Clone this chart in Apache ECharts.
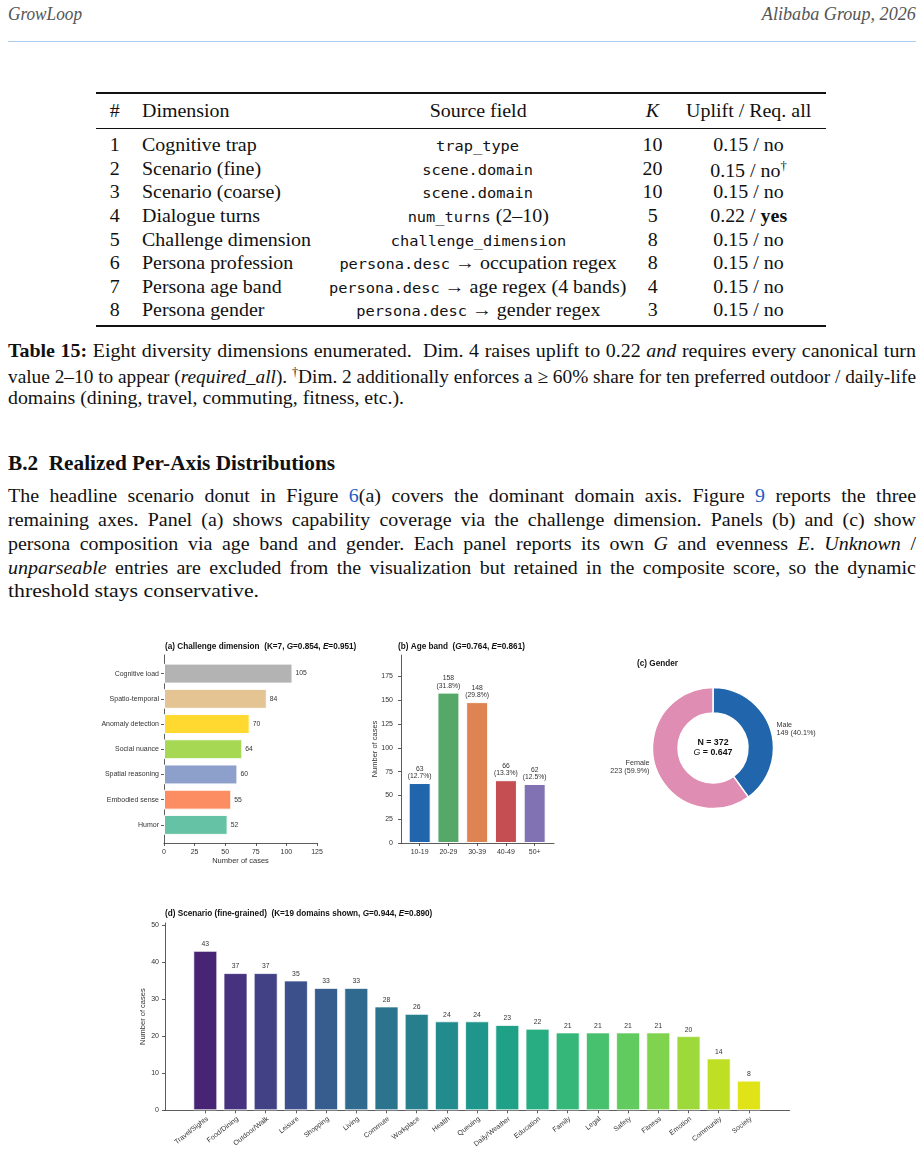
<!DOCTYPE html>
<html><head><meta charset="utf-8">
<script src="https://cdn.jsdelivr.net/npm/echarts@6/dist/echarts.min.js"></script>
<style>
html,body{margin:0;padding:0;background:#fff;}
body{width:924px;height:1149px;position:relative;overflow:hidden;font-family:"Liberation Serif","Times New Roman",serif;color:#111;}
.t{position:absolute;white-space:nowrap;font-size:19px;line-height:22px;}
.m{font-family:"DejaVu Sans Mono",monospace;font-size:14.6px;}
.rule{position:absolute;background:#111;}
.lk{color:#1f5cc4;}
#chart{position:absolute;left:0;top:0;width:924px;height:1149px;}
</style></head><body>

<div class="t" data-x="8" data-y="14" data-w="74" style="font-style:italic;color:#555;font-size:18px">GrowLoop</div>
<div class="t" data-x="916" data-y="14" data-a="r" data-w="154" style="font-style:italic;color:#555;font-size:18px">Alibaba Group, 2026</div>
<div class="rule" style="left:8px;top:40.5px;width:908px;height:1.5px;background:#acccf0"></div>

<div class="rule" style="left:96px;top:92px;width:730px;height:1.6px"></div>
<div class="rule" style="left:96px;top:127.5px;width:730px;height:0.9px"></div>
<div class="rule" style="left:96px;top:325px;width:730px;height:1.6px"></div>

<div id="tbl"></div>

<div class="t" data-x="8" data-y="351" data-w="908" data-j="1"><b>Table 15:</b> Eight diversity dimensions enumerated.&nbsp; Dim. 4 raises uplift to 0.22 <i>and</i> requires every canonical turn</div>
<div class="t" data-x="8" data-y="375" data-w="908" data-j="1">value 2–10 to appear (<i>required_all</i>). <sup style="font-size:12px">†</sup>Dim. 2 additionally enforces a ≥ 60% share for ten preferred outdoor / daily-life</div>
<div class="t" data-x="8" data-y="398" data-w="396">domains (dining, travel, commuting, fitness, etc.).</div>

<div class="t" data-x="8" data-y="463" data-w="327" style="font-weight:bold;font-size:21px">B.2&nbsp; Realized Per-Axis Distributions</div>

<div class="t" data-x="8" data-y="496" data-w="908" data-j="1">The headline scenario donut in Figure <span class="lk">6</span>(a) covers the dominant domain axis. Figure <span class="lk">9</span> reports the three</div>
<div class="t" data-x="8" data-y="520" data-w="908" data-j="1">remaining axes. Panel (a) shows capability coverage via the challenge dimension. Panels (b) and (c) show</div>
<div class="t" data-x="8" data-y="544" data-w="908" data-j="1">persona composition via age band and gender. Each panel reports its own <i>G</i> and evenness <i>E</i>. <i>Unknown</i> /</div>
<div class="t" data-x="8" data-y="568" data-w="908" data-j="1"><i>unparseable</i> entries are excluded from the visualization but retained in the composite score, so the dynamic</div>
<div class="t" data-x="8" data-y="591" data-w="251">threshold stays conservative.</div>

<div id="chart"></div>

<script>
// ---------- table text ----------
const tableHeader = ['#', 'Dimension', 'Source field', '<i>K</i>', 'Uplift / Req. all'];
const tableRows = [
  ['1', 'Cognitive trap', '<span class="m">trap_type</span>', '10', '0.15 / no'],
  ['2', 'Scenario (fine)', '<span class="m">scene.domain</span>', '20', '0.15 / no<sup style="font-size:12px">†</sup>'],
  ['3', 'Scenario (coarse)', '<span class="m">scene.domain</span>', '10', '0.15 / no'],
  ['4', 'Dialogue turns', '<span class="m">num_turns</span> (2–10)', '5', '0.22 / <b>yes</b>'],
  ['5', 'Challenge dimension', '<span class="m">challenge_dimension</span>', '8', '0.15 / no'],
  ['6', 'Persona profession', '<span class="m">persona.desc</span> → occupation regex', '8', '0.15 / no'],
  ['7', 'Persona age band', '<span class="m">persona.desc</span> → age regex (4 bands)', '4', '0.15 / no'],
  ['8', 'Persona gender', '<span class="m">persona.desc</span> → gender regex', '3', '0.15 / no']
];
const colX = [115, 142, 478, 652.5, 749];
const colA = ['c', 'l', 'c', 'c', 'c'];
const rowY = [145, 169, 192, 216, 240, 263, 287, 310];
(function () {
  const tbl = document.getElementById('tbl');
  function cell(html, x, y, a) {
    const d = document.createElement('div');
    d.className = 't'; d.innerHTML = html;
    d.dataset.x = x; d.dataset.y = y; d.dataset.a = a;
    tbl.appendChild(d);
  }
  tableHeader.forEach((h, i) => cell(h, colX[i], 111, colA[i]));
  tableRows.forEach((r, j) => r.forEach((h, i) => cell(h, colX[i], rowY[j], colA[i])));
})();

// ---------- fit text lines ----------
const S = 1.05;
document.querySelectorAll('.t').forEach(el => {
  const x = +el.dataset.x, y = +el.dataset.y, a = el.dataset.a || 'l';
  const w = el.dataset.w ? +el.dataset.w : null;
  const nat = el.getBoundingClientRect().width;
  let s = S, W = nat;
  if (w) {
    if (el.dataset.j && nat * S <= w) {
      W = w / S;
      el.style.width = W + 'px';
      el.style.whiteSpace = 'normal';
      el.style.textAlign = 'justify';
      el.style.textAlignLast = 'justify';
    } else {
      s = w / nat;
    }
  }
  const h = el.getBoundingClientRect().height;
  el.style.top = (y - h / 2) + 'px';
  if (a === 'l') { el.style.left = x + 'px'; el.style.transformOrigin = 'left center'; }
  else if (a === 'c') { el.style.left = (x - W / 2) + 'px'; el.style.transformOrigin = 'center center'; }
  else { el.style.left = (x - W) + 'px'; el.style.transformOrigin = 'right center'; }
  el.style.transform = 'scaleX(' + s + ')';
});

// ---------- chart data ----------
const challengeCats = ['Cognitive load', 'Spatio-temporal', 'Anomaly detection', 'Social nuance', 'Spatial reasoning', 'Embodied sense', 'Humor'];
const challengeVals = [105, 84, 70, 64, 60, 55, 52];
const challengeTicks = [0, 25, 50, 75, 100, 125];

const ageCats = ['10-19', '20-29', '30-39', '40-49', '50+'];
const ageVals = [63, 158, 148, 66, 62];
const ageTicks = [0, 25, 50, 75, 100, 125, 150, 175];

const genderCats = ['Male', 'Female'];
const genderVals = [149, 223];

const sceneCats = ['Travel/Sights', 'Food/Dining', 'Outdoor/Walk', 'Leisure', 'Shopping', 'Living', 'Commute', 'Workplace', 'Health', 'Queuing', 'Daily/Weather', 'Education', 'Family', 'Legal', 'Safety', 'Fitness', 'Emotion', 'Community', 'Society'];
const sceneVals = [43, 37, 37, 35, 33, 33, 28, 26, 24, 24, 23, 22, 21, 21, 21, 21, 20, 14, 8];
const sceneTicks = [0, 10, 20, 30, 40, 50];

// ---------- styles ----------
const challengeColors = ['#b3b3b3', '#e5c494', '#ffd92f', '#a6d854', '#8da0cb', '#fc8d62', '#66c2a5'];
const ageColors = ['#2166ac', '#55a868', '#dd8452', '#c44e52', '#8172b3'];
const genderColors = ['#2166ac', '#df8db2'];
const sceneColors = ['#482475', '#46327e', '#424186', '#3c508b', '#365d8d', '#306a8e', '#2c738e', '#277f8e', '#228b8d', '#1f968b', '#1fa188', '#27ad81', '#35b779', '#48c16e', '#62cb5f', '#7fd34e', '#9dd93b', '#bfdf25', '#dfe318'];

const FONT = 'Liberation Sans, Arial, sans-serif';
const INK = '#333';
const axLine = { show: true, lineStyle: { color: '#333', width: 0.8 } };
const axTick = { show: true, length: 3, lineStyle: { color: '#333', width: 0.8 } };
const noSplit = { show: false };
const tickLab = (m) => ({ fontSize: 7, color: INK, fontFamily: FONT, margin: m });
const nameStyle = { fontSize: 7.5, color: INK, fontFamily: FONT };
const titleRich = {
  b: { fontSize: 8.2, fontWeight: 'bold', color: '#111', fontFamily: FONT },
  i: { fontSize: 8.2, fontStyle: 'italic', fontWeight: 'bold', color: '#111', fontFamily: FONT }
};
const ageTotal = ageVals.reduce((a, b) => a + b, 0);
const genderTotal = genderVals.reduce((a, b) => a + b, 0);

function lineOnly(grid) {
  return { type: 'value', gridIndex: grid, min: 0, max: 1, axisLine: axLine, axisTick: { show: false }, axisLabel: { show: false }, splitLine: noSplit };
}
function hidden(grid, min, max) {
  return { type: 'value', gridIndex: grid, min: min, max: max, show: false, splitLine: noSplit };
}

const option = {
  animation: false,
  textStyle: { fontFamily: FONT },
  title: [
    { left: 165, top: 643, padding: 0, text: '{b|(a) Challenge dimension  (K=7, }{i|G}{b|=0.854, }{i|E}{b|=0.951)}', textStyle: { rich: titleRich } },
    { left: 398, top: 643, padding: 0, text: '{b|(b) Age band  (}{i|G}{b|=0.764, }{i|E}{b|=0.861)}', textStyle: { rich: titleRich } },
    { left: 637, top: 660, padding: 0, text: '{b|(c) Gender}', textStyle: { rich: titleRich } },
    { left: 165, top: 910, padding: 0, text: '{b|(d) Scenario (fine-grained)  (K=19 domains shown, }{i|G}{b|=0.944, }{i|E}{b|=0.890)}', textStyle: { rich: titleRich } }
  ],
  grid: [
    { left: 164, top: 655, width: 153, height: 188, outerBoundsMode: 'none' },
    { left: 164, top: 661, width: 153, height: 176.5, outerBoundsMode: 'none' },
    { left: 401, top: 655, width: 153, height: 188, outerBoundsMode: 'none' },
    { left: 405.3, top: 655, width: 143.75, height: 188, outerBoundsMode: 'none' },
    { left: 165, top: 923, width: 624.5, height: 187.3, outerBoundsMode: 'none' },
    { left: 190.2, top: 923, width: 573.8, height: 187.3, outerBoundsMode: 'none' }
  ],
  xAxis: [
    { type: 'value', gridIndex: 0, min: 0, max: 125, interval: 25, axisLine: axLine, axisTick: axTick,
      axisLabel: tickLab(6), splitLine: noSplit,
      name: 'Number of cases', nameLocation: 'middle', nameGap: 14, nameMoveOverlap: false,
      nameTextStyle: nameStyle },
    hidden(1, 0, 125),
    lineOnly(2),
    { type: 'category', gridIndex: 3, data: ageCats, axisLine: { show: false },
      axisTick: Object.assign({ alignWithLabel: true, interval: 0 }, axTick), axisLabel: tickLab(6) },
    lineOnly(4),
    { type: 'category', gridIndex: 5, data: sceneCats, axisLine: { show: false },
      axisTick: Object.assign({ alignWithLabel: true, interval: 0 }, axTick),
      axisLabel: { interval: 0, rotate: 38, fontSize: 7, color: INK, fontFamily: FONT, margin: 5, verticalAlign: 'top' } }
  ],
  yAxis: [
    lineOnly(0),
    { type: 'category', gridIndex: 1, data: challengeCats, inverse: true, axisLine: { show: false },
      axisTick: Object.assign({ alignWithLabel: true, interval: 0 }, axTick), axisLabel: tickLab(5) },
    { type: 'value', gridIndex: 2, min: 0, max: 197.5, axisLine: axLine,
      axisTick: Object.assign({ customValues: ageTicks }, axTick),
      axisLabel: Object.assign({ customValues: ageTicks }, tickLab(8)), splitLine: noSplit,
      name: 'Number of cases', nameLocation: 'middle', nameGap: 22, nameRotate: 90, nameMoveOverlap: false,
      nameTextStyle: nameStyle },
    hidden(3, 0, 197.5),
    { type: 'value', gridIndex: 4, min: 0, max: 50.5, axisLine: axLine,
      axisTick: Object.assign({ customValues: sceneTicks }, axTick),
      axisLabel: Object.assign({ customValues: sceneTicks }, tickLab(6)), splitLine: noSplit,
      name: 'Number of cases', nameLocation: 'middle', nameGap: 18, nameRotate: 90, nameMoveOverlap: false,
      nameTextStyle: nameStyle },
    hidden(5, 0, 50.5)
  ],
  series: [
    { type: 'bar', xAxisIndex: 1, yAxisIndex: 1, barWidth: 20,
      data: challengeVals.map((v, i) => ({ value: v, itemStyle: { color: challengeColors[i] } })),
      itemStyle: { borderColor: '#fff', borderWidth: 1 },
      label: { show: true, position: 'right', distance: 3, fontSize: 6.8, color: INK, fontFamily: FONT } },
    { type: 'bar', xAxisIndex: 3, yAxisIndex: 3, barWidth: 22,
      data: ageVals.map((v, i) => ({ value: v, itemStyle: { color: ageColors[i] } })),
      itemStyle: { borderColor: '#fff', borderWidth: 1 },
      label: { show: true, position: 'top', distance: 3, fontSize: 6.8, lineHeight: 7.5, color: INK, fontFamily: FONT, align: 'center',
        formatter: p => p.value + '\n(' + (p.value / ageTotal * 100).toFixed(1) + '%)' } },
    { type: 'pie', center: [713, 748], radius: [35, 60.5], startAngle: 90, clockwise: true,
      avoidLabelOverlap: false,
      data: genderCats.map((c, i) => ({ name: c, value: genderVals[i], itemStyle: { color: genderColors[i] } })),
      itemStyle: { borderColor: '#fff', borderWidth: 1.5 },
      labelLine: { show: false, length: 1, length2: 0 },
      label: { show: true, position: 'outside', fontSize: 7.2, lineHeight: 8.5, color: INK, fontFamily: FONT,
        formatter: p => p.name + '\n' + p.value + ' (' + (p.value / genderTotal * 100).toFixed(1) + '%)' } },
    { type: 'bar', xAxisIndex: 5, yAxisIndex: 5, barWidth: 24,
      data: sceneVals.map((v, i) => ({ value: v, itemStyle: { color: sceneColors[i] } })),
      itemStyle: { borderColor: 'rgba(255,255,255,0.75)', borderWidth: 1 },
      label: { show: true, position: 'top', distance: 3, fontSize: 6.8, color: INK, fontFamily: FONT } }
  ],
  graphic: [
    { type: 'text', x: 713, y: 748, style: { text: '{b|N = 372}\n{i|G}{b| = 0.647}', align: 'center', verticalAlign: 'middle',
      rich: { b: { fontSize: 8.8, fontWeight: 'bold', fill: '#111', fontFamily: FONT, lineHeight: 10 },
              i: { fontSize: 8.8, fontStyle: 'italic', fill: '#111', fontFamily: FONT, lineHeight: 10 } } } }
  ]
};
const chart = echarts.init(document.getElementById('chart'), null, { renderer: 'canvas' });
chart.setOption(option);
</script>
</body></html>
